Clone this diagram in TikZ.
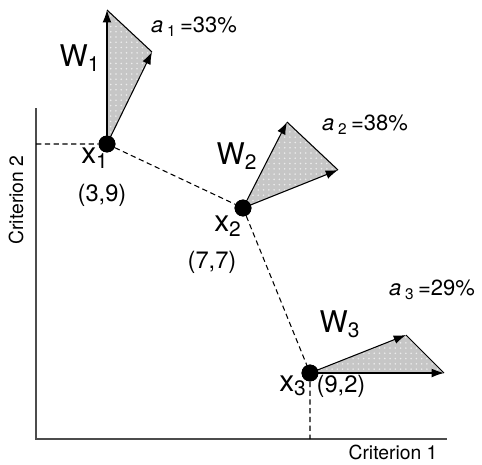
\documentclass[tikz,border=0pt]{standalone}
\usepackage{fontspec}
\setmainfont{TeX Gyre Heros}
\usetikzlibrary{arrows.meta,patterns}

\tikzset{
  pt/.style={circle, fill=black, inner sep=0pt, minimum width=9.6pt, minimum height=8pt},
  wgt/.style={-{Latex[length=7pt,width=5pt]}, semithick},
  wedge/.style={fill=gray!45},
  dots/.style={pattern=dots, pattern color=white!85!gray},
  link/.style={dash pattern=on 3pt off 2pt, semithick},
  lbl/.style={inner sep=0pt, font=\fontsize{17}{17}\selectfont},
  share/.style={font=\fontsize{12.5}{13}\selectfont},
  coord/.style={font=\fontsize{13.5}{14}\selectfont},
  axlbl/.style={font=\fontsize{11}{11}\selectfont}
}

\begin{document}
\begin{tikzpicture}[x=0.02cm, y=-0.02cm]
                    \useasboundingbox (0,0) rectangle (482,464);
                    % axes
                    \draw[thick, gray!60!black] (36,108) -- (36,439) -- (447,439);
                    \node[axlbl] (c1) at (393,452) {Criterion 1};
                    \node[axlbl, rotate=90] (c2) at (16,200) {Criterion 2};
                    % points
                    \node[pt] (x1) at (107,144) {};
                    \node[pt] (x2) at (243,208) {};
                    \node[pt] (x3) at (310,373) {};
                    \coordinate (y1) at (36,144);
                    \coordinate (b3) at (310,439);
                    \draw[link] (y1) -- (x1) -- (x2) -- (x3) -- (b3);
                    % weight cones
                    \coordinate (w1a) at (107,10);  \coordinate (w1b) at (152,52);
                    \coordinate (w2a) at (287,122); \coordinate (w2b) at (338,170);
                    \coordinate (w3a) at (406,335); \coordinate (w3b) at (444,373);
                    \foreach \p/\a/\b in {x1/w1a/w1b, x2/w2a/w2b, x3/w3a/w3b} {
                      \fill[wedge] (\p.center) -- (\a) -- (\b) -- cycle;
                      \fill[dots] (\p.center) -- (\a) -- (\b) -- cycle;
                      \draw[semithick] (\a) -- (\b);
                      \draw[wgt] (\p.center) -- (\a);
                      \draw[wgt] (\p.center) -- (\b);
                    }
                    \node[pt] at (x1) {};
                    \node[pt] at (x2) {};
                    \node[pt] at (x3) {};
                    % labels
                    \node[lbl] (W1) at (80,58) {W\textsubscript{1}};
                    \node[lbl] (W2) at (237,156) {W\textsubscript{2}};
                    \node[lbl] (W3) at (340,324) {W\textsubscript{3}};
                    \node[share] (a1) at (194,27) {\textit{a}\,\textsubscript{1}\,=33\%};
                    \node[share] (a2) at (365,125) {\textit{a}\,\textsubscript{2}\,=38\%};
                    \node[share] (a3) at (432,290) {\textit{a}\,\textsubscript{3}\,=29\%};
                    \node[lbl] (l1) at (95,158) {x\textsubscript{1}};
                    \node[lbl] (l2) at (228,226) {x\textsubscript{2}};
                    \node[lbl] (l3) at (293,386) {x\textsubscript{3}};
                    \node[coord] (p1) at (102,195) {(3,9)};
                    \node[coord] (p2) at (212,262) {(7,7)};
                    \node[coord] (p3) at (341,386) {(9,2)};
                \end{tikzpicture}
\end{document}
